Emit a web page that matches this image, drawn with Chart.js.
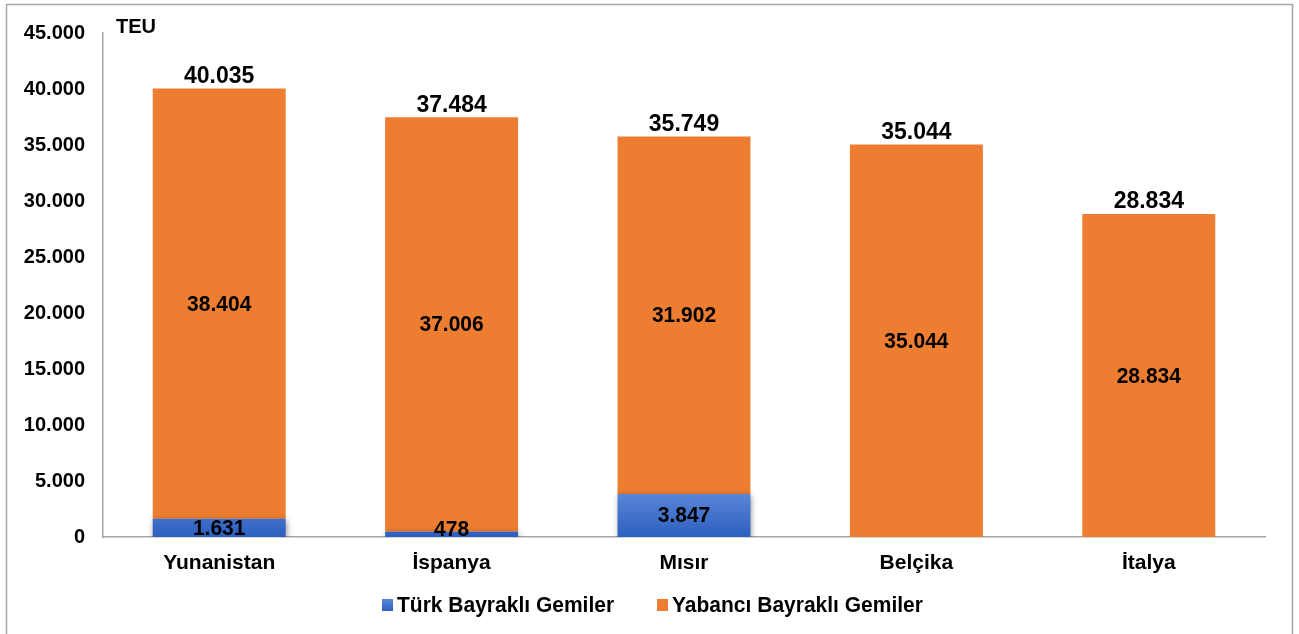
<!DOCTYPE html>
<html>
<head>
<meta charset="utf-8">
<script src="https://cdn.jsdelivr.net/npm/chart.js@4.4.1/dist/chart.umd.min.js"></script>
<style>
html,body{margin:0;padding:0;background:#fff;overflow:hidden;}
#wrap{position:relative;width:1299px;height:634px;}
</style>
</head>
<body>
<div id="wrap"><canvas id="c" width="1299" height="634"></canvas></div>
<script>
const categories = ['Yunanistan', 'İspanya', 'Mısır', 'Belçika', 'İtalya'];
const turkBayrakli = [1631, 478, 3847, 0, 0];
const yabanciBayrakli = [38404, 37006, 31902, 35044, 28834];
const seriesNames = ['Türk Bayraklı Gemiler', 'Yabancı Bayraklı Gemiler'];
const yTicks = [0, 5000, 10000, 15000, 20000, 25000, 30000, 35000, 40000, 45000];
const unitLabel = 'TEU';

const FONT = '"Liberation Sans", Arial, sans-serif';
const ORANGE = '#ED7D31';
const BLUE = '#4472C4';

function fmt(v) {
  return String(v).replace(/\B(?=(\d{3})+(?!\d))/g, '.');
}

function blueFill(ctx) {
  const chart = ctx.chart;
  const area = chart.chartArea;
  if (!area) return BLUE;
  const y = chart.scales.y;
  const g = chart.ctx.createLinearGradient(0, y.getPixelForValue(0), 0, y.getPixelForValue(4000));
  g.addColorStop(0, '#2c5fbf');
  g.addColorStop(1, '#5b87d8');
  return g;
}

function stretchText(c, txt, x, y, sy) {
  c.save();
  c.translate(x, y);
  c.scale(1, sy);
  c.fillText(txt, 0, 0);
  c.restore();
}

const decor = {
  id: 'decor',
  beforeDraw(chart) {
    const c = chart.ctx;
    c.save();
    c.strokeStyle = '#a6a6a6';
    c.lineWidth = 1.5;
    c.strokeRect(6.5, 4.5, 1286, 700);
    c.restore();
  },
  beforeDatasetDraw(chart, args) {
    if (args.index === 0) {
      const c = chart.ctx;
      c.save();
      c.shadowColor = 'rgba(0,0,0,0.45)';
      c.shadowBlur = 6;
      c.shadowOffsetX = 1;
      c.shadowOffsetY = 2;
    }
  },
  afterDatasetDraw(chart, args) {
    if (args.index === 0) chart.ctx.restore();
  },
  afterDraw(chart) {
    const c = chart.ctx;
    const yS = chart.scales.y;
    c.save();
    c.fillStyle = '#000';
    // unit label
    c.font = 'bold 20px ' + FONT;
    c.textAlign = 'left';
    c.textBaseline = 'alphabetic';
    stretchText(c, unitLabel, 116, 33, 1.0);
    // inside labels
    c.textAlign = 'center';
    c.textBaseline = 'middle';
    c.font = 'bold 21px ' + FONT;
    const base = yS.getPixelForValue(0);
    chart.data.datasets.forEach((ds, di) => {
      const meta = chart.getDatasetMeta(di);
      meta.data.forEach((el, i) => {
        const v = ds.data[i];
        if (!v) return;
        let cy = (el.y + el.base) / 2;
        if (cy > base - 8) cy = base - 8;
        stretchText(c, fmt(v), el.x, cy + 1, 1.04);
      });
    });
    // totals
    c.font = 'bold 23px ' + FONT;
    const m1 = chart.getDatasetMeta(1);
    categories.forEach((cat, i) => {
      const tot = (turkBayrakli[i] || 0) + (yabanciBayrakli[i] || 0);
      const el = m1.data[i];
      stretchText(c, fmt(tot), el.x, yS.getPixelForValue(tot) - 12, 1.0);
    });
    // legend
    c.font = 'bold 21px ' + FONT;
    c.textAlign = 'left';
    const items = [[BLUE, seriesNames[0], 382], [ORANGE, seriesNames[1], 657]];
    items.forEach(([col, txt, x]) => {
      if (col === BLUE) {
        const g = c.createLinearGradient(0, 599, 0, 611);
        g.addColorStop(0, '#5b87d8');
        g.addColorStop(1, '#2c5fbf');
        c.fillStyle = g;
      } else c.fillStyle = col;
      c.fillRect(x, 599, 11, 12);
      c.fillStyle = '#000';
      stretchText(c, txt, x + 15, 606, 1.03);
    });
    c.restore();
  }
};

new Chart(document.getElementById('c'), {
  type: 'bar',
  data: {
    labels: categories,
    datasets: [
      { label: seriesNames[0], data: turkBayrakli, backgroundColor: blueFill, borderWidth: 0 },
      { label: seriesNames[1], data: yabanciBayrakli, backgroundColor: ORANGE, borderWidth: 0 }
    ]
  },
  options: {
    responsive: false,
    animation: false,
    devicePixelRatio: 1,
    layout: { padding: { left: 0, right: 34, top: 33, bottom: 0 } },
    datasets: { bar: { categoryPercentage: 1, barPercentage: 0.572 } },
    plugins: { legend: { display: false }, tooltip: { enabled: false } },
    scales: {
      x: {
        stacked: true,
        grid: { display: false, drawTicks: false },
        border: { display: true, color: '#a6a6a6', width: 1.5 },
        ticks: { color: '#000', font: { family: FONT, size: 21, weight: 'bold' }, padding: 14 },
        afterFit(s) { s.height = 634 - 537; }
      },
      y: {
        stacked: true,
        min: 0, max: 45000,
        afterBuildTicks(s) { s.ticks = yTicks.map(v => ({ value: v })); },
        grid: { display: false, drawTicks: false },
        border: { display: true, color: '#a6a6a6', width: 1.5 },
        ticks: { color: '#000', font: { family: FONT, size: 20, weight: 'bold' }, padding: 18, callback: v => fmt(v) },
        afterFit(s) { s.width = 103; }
      }
    }
  },
  plugins: [decor]
});
</script>
</body>
</html>
